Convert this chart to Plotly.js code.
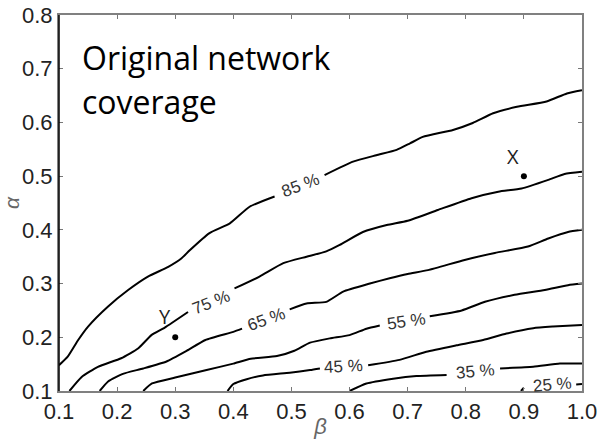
<!DOCTYPE html>
<html>
<head>
<meta charset="utf-8">
<script src="https://cdn.plot.ly/plotly-3.0.1.min.js"></script>
<style>
  html, body { margin: 0; padding: 0; background: #fff; }
  #chart { width: 602px; height: 439px; }
</style>
</head>
<body>
<div id="chart"></div>
<script>
// Coverage contour levels traced over the (beta, alpha) plane.
// A null splits a line where its inline label sits.
const beta85  = [0.100, 0.115, 0.133, 0.150, 0.184, 0.219, 0.253, 0.288, 0.311, 0.325, 0.359, 0.394, 0.428, 0.471, null, 0.557, 0.606, 0.646, 0.681, 0.704, 0.726, 0.778, 0.812, 0.847, 0.888, 0.939, 0.974, 1.000];
const alpha85 = [0.148, 0.164, 0.195, 0.220, 0.257, 0.288, 0.313, 0.331, 0.347, 0.362, 0.394, 0.412, 0.443, 0.462, null, 0.502, 0.527, 0.539, 0.549, 0.561, 0.573, 0.586, 0.599, 0.617, 0.629, 0.639, 0.654, 0.660];

const beta75  = [0.118, 0.139, 0.167, 0.207, 0.236, 0.259, 0.282, 0.322, null, 0.402, 0.445, 0.486, 0.526, 0.560, 0.583, 0.623, 0.664, 0.700, 0.752, 0.810, 0.856, 0.896, 0.942, 0.970, 1.000];
const alpha75 = [0.100, 0.126, 0.145, 0.161, 0.179, 0.204, 0.218, 0.247, null, 0.291, 0.313, 0.338, 0.350, 0.360, 0.372, 0.396, 0.409, 0.417, 0.437, 0.459, 0.471, 0.477, 0.493, 0.504, 0.508];

const beta65  = [0.170, 0.185, 0.210, 0.245, 0.285, 0.320, 0.352, 0.400, 0.415, null, 0.497, 0.526, 0.560, 0.589, 0.635, 0.669, 0.700, 0.735, 0.798, 0.850, 0.907, 0.942, 0.976, 1.000];
const alpha65 = [0.100, 0.118, 0.132, 0.142, 0.155, 0.175, 0.195, 0.210, 0.216, null, 0.252, 0.263, 0.266, 0.285, 0.300, 0.310, 0.318, 0.325, 0.344, 0.357, 0.369, 0.384, 0.396, 0.400];

const beta55  = [0.245, 0.260, 0.300, 0.354, 0.400, 0.430, 0.475, 0.505, 0.532, 0.566, 0.600, 0.629, 0.652, null, 0.738, 0.793, 0.833, 0.884, 0.936, 0.976, 1.000];
const alpha55 = [0.100, 0.114, 0.125, 0.139, 0.151, 0.160, 0.165, 0.175, 0.190, 0.198, 0.204, 0.216, 0.222, null, 0.239, 0.250, 0.266, 0.279, 0.288, 0.297, 0.300];

const beta45  = [0.390, 0.400, 0.423, 0.451, 0.497, 0.532, 0.549, null, 0.632, 0.686, 0.732, 0.784, 0.830, 0.870, 0.916, 0.950, 1.000];
const alpha45 = [0.100, 0.113, 0.122, 0.129, 0.134, 0.139, 0.142, null, 0.148, 0.158, 0.173, 0.185, 0.195, 0.207, 0.217, 0.220, 0.223];

const beta35  = [0.600, 0.629, 0.675, 0.715, 0.767, null, 0.859, 0.916, 0.962, 1.000];
const alpha35 = [0.100, 0.114, 0.123, 0.128, 0.130, null, 0.142, 0.145, 0.151, 0.151];

const beta25  = [0.895, 0.900, null, 0.990, 1.000];
const alpha25 = [0.100, 0.106, null, 0.112, 0.113];

// Inline level labels
const levelText   = ['85 %', '75 %', '65 %', '55 %', '45 %', '35 %', '25 %'];
const levelBeta   = [0.515, 0.362, 0.457, 0.698, 0.589, 0.816, 0.950];
const levelAlpha  = [0.483, 0.264, 0.233, 0.229, 0.146, 0.136, 0.112];
const levelAngle  = [-21, -22, -20, -8, -3, -5, -5];

// Marked operating points
const pointNames = ['X', 'Y'];
const pointBeta  = [0.9, 0.3];
const pointAlpha = [0.5, 0.2];
const pointLabelBeta  = [0.882, 0.282];
const pointLabelAlpha = [0.536, 0.238];

// Axis ticks
const xTicks = [0.1, 0.2, 0.3, 0.4, 0.5, 0.6, 0.7, 0.8, 0.9, 1.0];
const yTicks = [0.1, 0.2, 0.3, 0.4, 0.5, 0.6, 0.7, 0.8];

const lineStyle = { color: '#000', width: 2, shape: 'spline', smoothing: 0.5 };
const levels = [
  [beta85, alpha85], [beta75, alpha75], [beta65, alpha65], [beta55, alpha55],
  [beta45, alpha45], [beta35, alpha35], [beta25, alpha25]
];

const traces = levels.map(([b, a]) => ({
  type: 'scatter', mode: 'lines', x: b, y: a,
  line: lineStyle, connectgaps: false, hoverinfo: 'skip', showlegend: false
}));

traces.push({
  type: 'scatter', mode: 'markers', x: pointBeta, y: pointAlpha,
  marker: { color: '#000', size: 6 }, showlegend: false, hoverinfo: 'skip'
});

const annotations = [];
levelText.forEach((t, i) => {
  annotations.push({
    x: levelBeta[i], y: levelAlpha[i], xref: 'x', yref: 'y',
    text: t, showarrow: false, textangle: levelAngle[i],
    font: { family: 'Liberation Sans, Arial, sans-serif', size: 17, color: '#333' }
  });
});
pointNames.forEach((t, i) => {
  annotations.push({
    x: pointLabelBeta[i], y: pointLabelAlpha[i], xref: 'x', yref: 'y',
    text: t, showarrow: false,
    font: { family: 'Open Sans, sans-serif', size: 20, color: '#222' }
  });
});
// Heading inside the plot
annotations.push({
  x: 0.136, y: 0.72, xref: 'x', yref: 'y', xanchor: 'left', yanchor: 'middle',
  text: 'Original network', showarrow: false,
  font: { family: 'Open Sans, sans-serif', size: 32, color: '#000' }
});
annotations.push({
  x: 0.136, y: 0.639, xref: 'x', yref: 'y', xanchor: 'left', yanchor: 'middle',
  text: 'coverage', showarrow: false,
  font: { family: 'Open Sans, sans-serif', size: 32, color: '#000' }
});

const tickFont = { family: 'Liberation Sans, Arial, sans-serif', size: 22, color: '#222' };

const layout = {
  width: 602, height: 439,
  margin: { l: 59, r: 20, t: 15, b: 48 },
  paper_bgcolor: '#fff', plot_bgcolor: '#fff',
  xaxis: {
    range: [0.1, 1.0], tickvals: xTicks, ticktext: xTicks.map(v => v.toFixed(1)),
    ticks: 'inside', ticklen: 4, tickcolor: '#777', tickwidth: 1,
    showline: true, linecolor: '#808080', linewidth: 2, mirror: 'ticks',
    showgrid: false, zeroline: false, tickfont: tickFont,
    title: { text: '<i>β</i>', standoff: 4, font: { family: 'Liberation Sans, Arial, sans-serif', size: 22, color: '#666' } }
  },
  yaxis: {
    range: [0.1, 0.8], tickvals: yTicks, ticktext: yTicks.map(v => v.toFixed(1)),
    ticks: 'inside', ticklen: 4, tickcolor: '#777', tickwidth: 1,
    showline: true, linecolor: '#808080', linewidth: 2, mirror: 'ticks',
    showgrid: false, zeroline: false, tickfont: tickFont,
    title: { text: '<i>α</i>', standoff: 2, font: { family: 'Liberation Sans, Arial, sans-serif', size: 21, color: '#666' } }
  },
  shapes: [{
    type: 'line', xref: 'paper', yref: 'paper', x0: 0, x1: 0, y0: 0, y1: 1,
    line: { color: '#000', width: 1.5 }
  }],
  annotations: annotations
};

Plotly.newPlot('chart', traces, layout, { displayModeBar: false, staticPlot: true });
</script>
</body>
</html>
